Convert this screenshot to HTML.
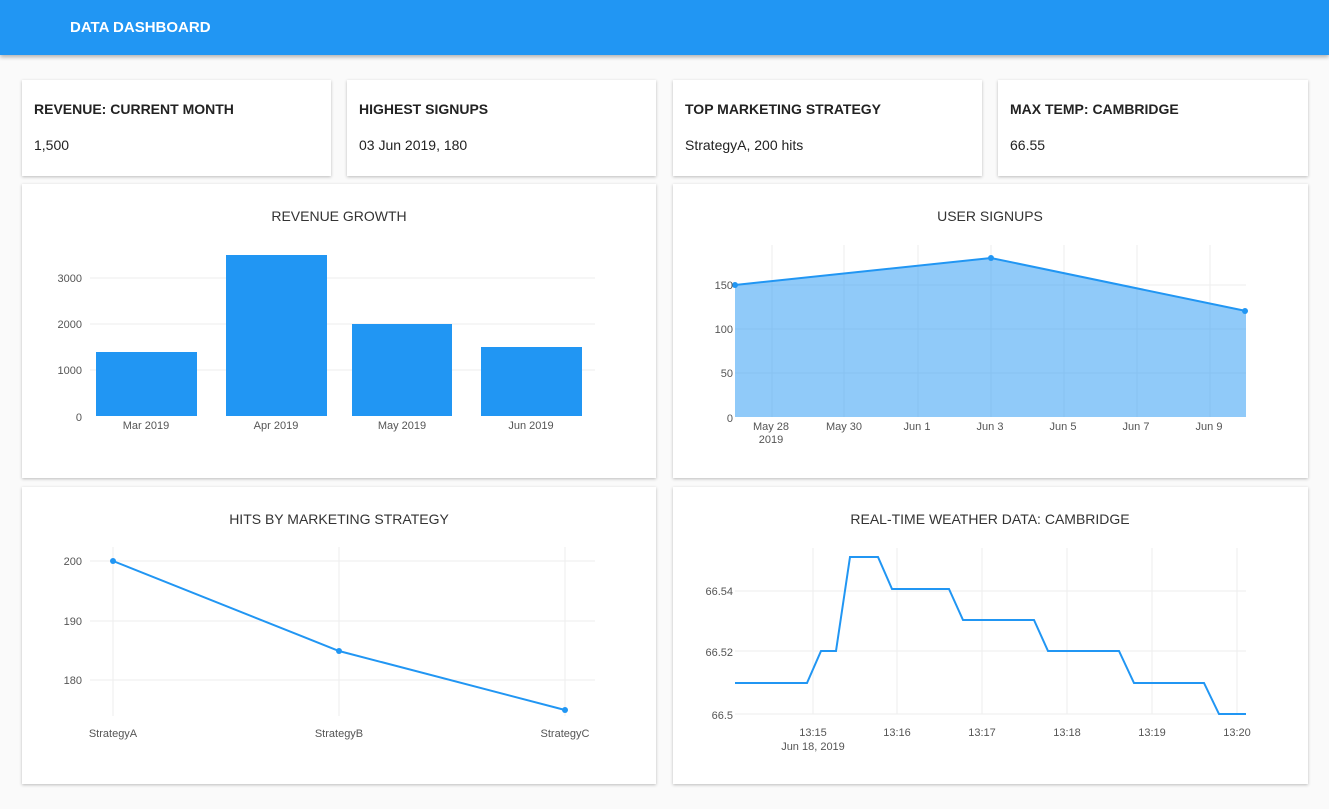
<!DOCTYPE html>
<html><head><meta charset="utf-8"><style>
body{margin:0;width:1329px;height:809px;background:#fafafa;font-family:"Liberation Sans",sans-serif;position:relative;overflow:hidden}
.hdr{position:absolute;left:0;top:0;width:1329px;height:55px;background:#2196f3;box-shadow:0 2px 4px rgba(0,0,0,.3)}
.hdr span{position:absolute;left:70px;top:19px;color:#fff;font-weight:bold;font-size:15px}
.card{position:absolute;background:#fff;box-shadow:0 1px 3px rgba(0,0,0,.25)}
.st{font-weight:bold;font-size:14px;color:#222;position:absolute;left:12px;top:21px}
.sv{font-size:14px;color:#222;position:absolute;left:12px;top:57px}
svg{position:absolute;left:0;top:0}
svg text{font-family:"Liberation Sans",sans-serif}
</style></head><body>
<div class="hdr"><span>DATA DASHBOARD</span></div>
<div class="card" style="left:22px;top:80px;width:309px;height:96px"><div class="st">REVENUE: CURRENT MONTH</div><div class="sv">1,500</div></div>
<div class="card" style="left:347px;top:80px;width:309px;height:96px"><div class="st">HIGHEST SIGNUPS</div><div class="sv">03 Jun 2019, 180</div></div>
<div class="card" style="left:673px;top:80px;width:309px;height:96px"><div class="st">TOP MARKETING STRATEGY</div><div class="sv">StrategyA, 200 hits</div></div>
<div class="card" style="left:998px;top:80px;width:310px;height:96px"><div class="st">MAX TEMP: CAMBRIDGE</div><div class="sv">66.55</div></div>
<div class="card" style="left:22px;top:184px;width:634px;height:294px"></div>
<div class="card" style="left:673px;top:184px;width:635px;height:294px"></div>
<div class="card" style="left:22px;top:487px;width:634px;height:297px"></div>
<div class="card" style="left:673px;top:487px;width:635px;height:297px"></div>
<svg width="1329" height="809" font-size="11" fill="#555">
<g font-size="14" fill="#333" text-anchor="middle">
<text x="339" y="221">REVENUE GROWTH</text>
<text x="990" y="221">USER SIGNUPS</text>
<text x="339" y="524">HITS BY MARKETING STRATEGY</text>
<text x="990" y="524">REAL-TIME WEATHER DATA: CAMBRIDGE</text>
</g>
<!-- revenue -->
<g stroke="#eee"><line x1="90" x2="595" y1="278" y2="278"/><line x1="90" x2="595" y1="324" y2="324"/><line x1="90" x2="595" y1="370" y2="370"/></g>
<g fill="#2196f3"><rect x="96" y="352" width="101" height="64"/><rect x="226" y="255" width="101" height="161"/><rect x="352" y="324" width="100" height="92"/><rect x="481" y="347" width="101" height="69"/></g>
<g text-anchor="end"><text x="82" y="282">3000</text><text x="82" y="328">2000</text><text x="82" y="374">1000</text><text x="82" y="421">0</text></g>
<g text-anchor="middle"><text x="146" y="429">Mar 2019</text><text x="276" y="429">Apr 2019</text><text x="402" y="429">May 2019</text><text x="531" y="429">Jun 2019</text></g>
<!-- signups -->
<g stroke="#eee"><line x1="735" x2="1246" y1="285" y2="285"/><line x1="735" x2="1246" y1="329" y2="329"/><line x1="735" x2="1246" y1="373" y2="373"/>
<line x1="772" x2="772" y1="245" y2="417"/><line x1="844" x2="844" y1="245" y2="417"/><line x1="918" x2="918" y1="245" y2="417"/><line x1="991" x2="991" y1="245" y2="417"/><line x1="1064" x2="1064" y1="245" y2="417"/><line x1="1137" x2="1137" y1="245" y2="417"/><line x1="1210" x2="1210" y1="245" y2="417"/></g>
<polygon points="735,285 991,258 1246,311 1246,417 735,417" fill="rgba(33,150,243,0.5)"/>
<polyline points="735,285 991,258 1246,311" fill="none" stroke="#2196f3" stroke-width="2"/>
<g fill="#2196f3"><circle cx="735" cy="285" r="3"/><circle cx="991" cy="258" r="3"/><circle cx="1245" cy="311" r="3"/></g>
<g text-anchor="end"><text x="733" y="289">150</text><text x="733" y="333">100</text><text x="733" y="377">50</text><text x="733" y="422">0</text></g>
<g text-anchor="middle"><text x="771" y="430">May 28</text><text x="771" y="443">2019</text><text x="844" y="430">May 30</text><text x="917" y="430">Jun 1</text><text x="990" y="430">Jun 3</text><text x="1063" y="430">Jun 5</text><text x="1136" y="430">Jun 7</text><text x="1209" y="430">Jun 9</text></g>
<!-- hits -->
<g stroke="#eee"><line x1="90" x2="595" y1="561" y2="561"/><line x1="90" x2="595" y1="621" y2="621"/><line x1="90" x2="595" y1="680" y2="680"/>
<line x1="113" x2="113" y1="547" y2="716"/><line x1="339" x2="339" y1="547" y2="716"/><line x1="565" x2="565" y1="547" y2="716"/></g>
<polyline points="113,561 339,651 565,710" fill="none" stroke="#2196f3" stroke-width="2"/>
<g fill="#2196f3"><circle cx="113" cy="561" r="3"/><circle cx="339" cy="651" r="3"/><circle cx="565" cy="710" r="3"/></g>
<g text-anchor="end"><text x="82" y="565">200</text><text x="82" y="625">190</text><text x="82" y="684">180</text></g>
<g text-anchor="middle"><text x="113" y="737">StrategyA</text><text x="339" y="737">StrategyB</text><text x="565" y="737">StrategyC</text></g>
<!-- weather -->
<g stroke="#eee"><line x1="735" x2="1246" y1="591" y2="591"/><line x1="735" x2="1246" y1="651" y2="651"/><line x1="735" x2="1246" y1="714" y2="714"/>
<line x1="813" x2="813" y1="548" y2="714"/><line x1="897" x2="897" y1="548" y2="714"/><line x1="982" x2="982" y1="548" y2="714"/><line x1="1067" x2="1067" y1="548" y2="714"/><line x1="1152" x2="1152" y1="548" y2="714"/><line x1="1237" x2="1237" y1="548" y2="714"/></g>
<polyline points="735,683 807,683 821,651 836,651 850,557 878,557 892,589 949,589 963,620 1034,620 1048,651 1119,651 1134,683 1204,683 1219,714 1246,714" fill="none" stroke="#2196f3" stroke-width="2"/>
<g text-anchor="end"><text x="733" y="595">66.54</text><text x="733" y="656">66.52</text><text x="733" y="719">66.5</text></g>
<g text-anchor="middle"><text x="813" y="736">13:15</text><text x="813" y="750">Jun 18, 2019</text><text x="897" y="736">13:16</text><text x="982" y="736">13:17</text><text x="1067" y="736">13:18</text><text x="1152" y="736">13:19</text><text x="1237" y="736">13:20</text></g>
</svg>
</body></html>
